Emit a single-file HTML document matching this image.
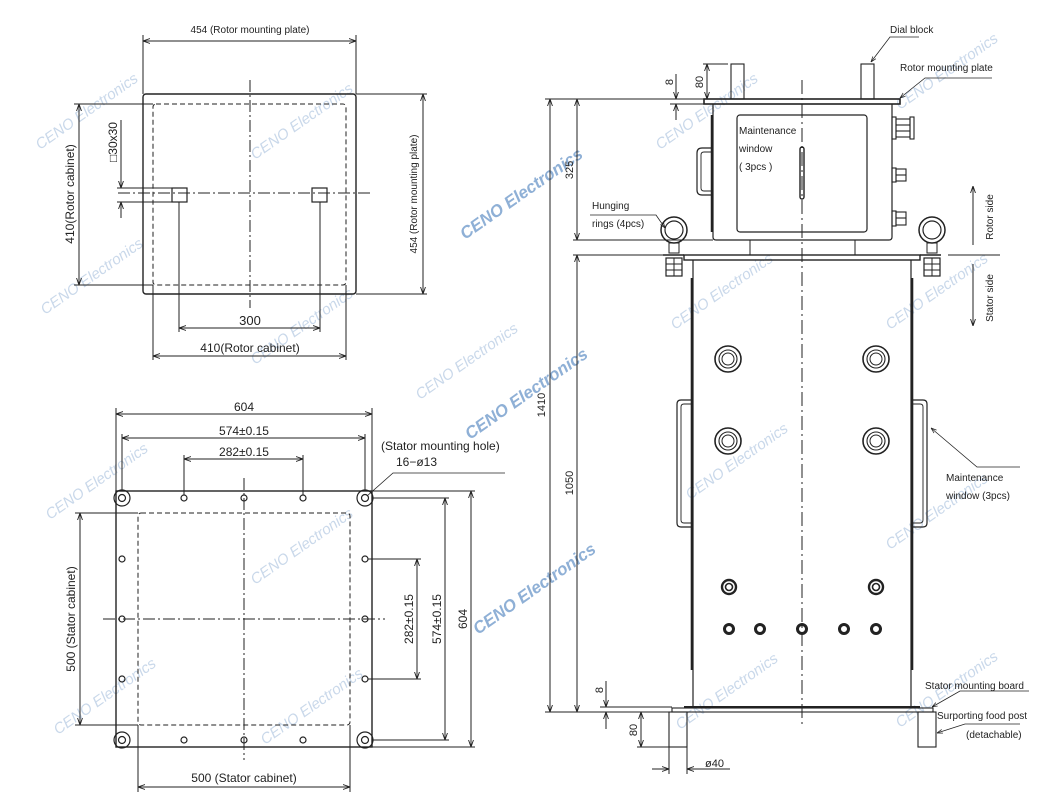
<!DOCTYPE html>
<html><head><meta charset="utf-8"><style>
html,body{margin:0;padding:0;background:#fff}
svg{display:block}
text{font-family:"Liberation Sans",sans-serif;fill:#222}
.t{font-size:11px}
.s{font-size:10px}
.wm{font-size:15px;fill:#c9d8ea;font-style:italic}
.wb{font-size:17px;fill:#8fb0d6;font-style:italic;font-weight:bold}
</style></head><body>
<svg width="1060" height="803" viewBox="0 0 1060 803" xmlns="http://www.w3.org/2000/svg">
<defs>
<marker id="a" viewBox="0 0 10 10" refX="10" refY="5" markerWidth="7" markerHeight="7" orient="auto-start-reverse"><path d="M0,1.5 L10,5 L0,8.5" fill="none" stroke="#222" stroke-width="1.3"/></marker>
</defs>
<!-- watermarks -->
<g>
<text class="wm" transform="translate(40,150) rotate(-35)">CENO Electronics</text>
<text class="wm" transform="translate(255,160) rotate(-35)">CENO Electronics</text>
<text class="wm" transform="translate(45,315) rotate(-35)">CENO Electronics</text>
<text class="wm" transform="translate(255,365) rotate(-35)">CENO Electronics</text>
<text class="wm" transform="translate(50,520) rotate(-35)">CENO Electronics</text>
<text class="wm" transform="translate(255,585) rotate(-35)">CENO Electronics</text>
<text class="wm" transform="translate(58,735) rotate(-35)">CENO Electronics</text>
<text class="wm" transform="translate(265,745) rotate(-35)">CENO Electronics</text>
<text class="wm" transform="translate(660,150) rotate(-35)">CENO Electronics</text>
<text class="wm" transform="translate(675,330) rotate(-35)">CENO Electronics</text>
<text class="wm" transform="translate(690,500) rotate(-35)">CENO Electronics</text>
<text class="wm" transform="translate(680,730) rotate(-35)">CENO Electronics</text>
<text class="wm" transform="translate(900,110) rotate(-35)">CENO Electronics</text>
<text class="wm" transform="translate(890,330) rotate(-35)">CENO Electronics</text>
<text class="wm" transform="translate(890,550) rotate(-35)">CENO Electronics</text>
<text class="wm" transform="translate(900,728) rotate(-35)">CENO Electronics</text>
<text class="wm" transform="translate(420,400) rotate(-35)">CENO Electronics</text>
<text class="wb" transform="translate(465,240) rotate(-35)">CENO Electronics</text>
<text class="wb" transform="translate(470,440) rotate(-35)">CENO Electronics</text>
<text class="wb" transform="translate(478,635) rotate(-35)">CENO Electronics</text>
</g>

<g stroke="#222" fill="none" stroke-width="1">
<!-- ===== TOP LEFT VIEW ===== -->
<rect x="143" y="94" width="213" height="200" rx="3" stroke-width="1.4"/>
<rect x="153" y="104" width="193" height="181" rx="3" stroke-dasharray="5,3"/>
<line x1="250" y1="80" x2="250" y2="308" stroke-dasharray="12,3,2,3"/>
<line x1="118" y1="193" x2="372" y2="193" stroke-dasharray="12,3,2,3"/>
<rect x="172" y="188" width="15" height="14" stroke-width="1.2"/>
<rect x="312" y="188" width="15" height="14" stroke-width="1.2"/>
<!-- 454 top -->
<line x1="143" y1="94" x2="143" y2="35"/><line x1="356" y1="94" x2="356" y2="35"/>
<line x1="143" y1="41" x2="356" y2="41" marker-start="url(#a)" marker-end="url(#a)"/>
<!-- 300 -->
<line x1="179" y1="202" x2="179" y2="332"/><line x1="320" y1="202" x2="320" y2="332"/>
<line x1="179" y1="328" x2="320" y2="328" marker-start="url(#a)" marker-end="url(#a)"/>
<!-- 410 bottom -->
<line x1="153" y1="285" x2="153" y2="360"/><line x1="346" y1="285" x2="346" y2="360"/>
<line x1="153" y1="356" x2="346" y2="356" marker-start="url(#a)" marker-end="url(#a)"/>
<!-- 410 left -->
<line x1="74" y1="104" x2="153" y2="104"/><line x1="74" y1="285" x2="153" y2="285"/>
<line x1="79" y1="104" x2="79" y2="285" marker-start="url(#a)" marker-end="url(#a)"/>
<!-- 454 right -->
<line x1="356" y1="94" x2="427" y2="94"/><line x1="356" y1="294" x2="427" y2="294"/>
<line x1="423" y1="94" x2="423" y2="294" marker-start="url(#a)" marker-end="url(#a)"/>
<!-- 30x30 -->
<line x1="117" y1="188" x2="172" y2="188"/><line x1="117" y1="202" x2="172" y2="202"/>
<line x1="121" y1="120" x2="121" y2="188" marker-end="url(#a)"/>
<line x1="121" y1="218" x2="121" y2="202" marker-end="url(#a)"/>

<!-- ===== BOTTOM LEFT VIEW ===== -->
<rect x="116" y="491" width="256" height="256" stroke-width="1.4"/>
<rect x="138" y="513" width="212" height="212" rx="3" stroke-dasharray="5,3"/>
<line x1="244" y1="478" x2="244" y2="760" stroke-dasharray="12,3,2,3"/>
<line x1="103" y1="619" x2="385" y2="619" stroke-dasharray="12,3,2,3"/>
<g stroke-width="1.2">
<circle cx="122" cy="498" r="8"/><circle cx="122" cy="498" r="3.5"/>
<circle cx="365" cy="498" r="8"/><circle cx="365" cy="498" r="3.5"/>
<circle cx="122" cy="740" r="8"/><circle cx="122" cy="740" r="3.5"/>
<circle cx="365" cy="740" r="8"/><circle cx="365" cy="740" r="3.5"/>
<circle cx="184" cy="498" r="3"/><circle cx="244" cy="498" r="3"/><circle cx="303" cy="498" r="3"/>
<circle cx="184" cy="740" r="3"/><circle cx="244" cy="740" r="3"/><circle cx="303" cy="740" r="3"/>
<circle cx="122" cy="559" r="3"/><circle cx="122" cy="619" r="3"/><circle cx="122" cy="679" r="3"/>
<circle cx="365" cy="559" r="3"/><circle cx="365" cy="619" r="3"/><circle cx="365" cy="679" r="3"/>
</g>
<!-- 604 top -->
<line x1="116" y1="491" x2="116" y2="408"/><line x1="372" y1="491" x2="372" y2="408"/>
<line x1="116" y1="414" x2="372" y2="414" marker-start="url(#a)" marker-end="url(#a)"/>
<line x1="122" y1="490" x2="122" y2="434"/><line x1="365" y1="490" x2="365" y2="434"/>
<line x1="122" y1="438" x2="365" y2="438" marker-start="url(#a)" marker-end="url(#a)"/>
<line x1="184" y1="495" x2="184" y2="455"/><line x1="303" y1="495" x2="303" y2="455"/>
<line x1="184" y1="459" x2="303" y2="459" marker-start="url(#a)" marker-end="url(#a)"/>
<!-- right dims -->
<line x1="368" y1="559" x2="421" y2="559"/><line x1="368" y1="679" x2="421" y2="679"/>
<line x1="417" y1="559" x2="417" y2="679" marker-start="url(#a)" marker-end="url(#a)"/>
<line x1="372" y1="498" x2="449" y2="498"/><line x1="372" y1="740" x2="449" y2="740"/>
<line x1="445" y1="498" x2="445" y2="740" marker-start="url(#a)" marker-end="url(#a)"/>
<line x1="372" y1="491" x2="475" y2="491"/><line x1="372" y1="747" x2="475" y2="747"/>
<line x1="471" y1="491" x2="471" y2="747" marker-start="url(#a)" marker-end="url(#a)"/>
<!-- left 500 -->
<line x1="75" y1="513" x2="138" y2="513"/><line x1="75" y1="725" x2="138" y2="725"/>
<line x1="80" y1="513" x2="80" y2="725" marker-start="url(#a)" marker-end="url(#a)"/>
<!-- bottom 500 -->
<line x1="138" y1="725" x2="138" y2="792"/><line x1="350" y1="725" x2="350" y2="792"/>
<line x1="138" y1="787" x2="350" y2="787" marker-start="url(#a)" marker-end="url(#a)"/>
<!-- leader -->
<polyline points="505,473 393,473 367,496" stroke-width="0.8"/>

<!-- ===== RIGHT VIEW ===== -->
<line x1="802" y1="80" x2="802" y2="725" stroke-dasharray="14,4,2,4"/>
<!-- dial blocks -->
<rect x="731" y="64" width="13" height="35" stroke-width="1.1"/>
<rect x="861" y="64" width="13" height="35" stroke-width="1.1"/>
<!-- rotor plate -->
<rect x="704" y="99" width="196" height="5" stroke-width="1.6"/>
<!-- rotor cabinet -->
<path d="M713,104 V237 Q713,240 716,240 H889 Q892,240 892,237 V104" stroke-width="1.2"/>
<line x1="712" y1="115" x2="712" y2="232" stroke-width="2.5"/>
<rect x="737" y="115" width="130" height="117" rx="3" stroke-width="1.2"/>
<rect x="800" y="147" width="4" height="52" rx="2" stroke-width="1.4"/>
<path d="M712,148 H702 Q697,148 697,153 V190 Q697,195 702,195 H712" stroke-width="1.2"/>
<path d="M712,152 H704 Q701,152 701,155 V188 Q701,191 704,191 H712" stroke-width="0.9"/>
<!-- glands -->
<g stroke-width="1.1">
<rect x="892" y="117" width="4" height="22"/><rect x="896" y="119" width="14" height="18"/><rect x="910" y="117" width="4" height="22"/>
<line x1="896" y1="125" x2="910" y2="125"/><line x1="896" y1="131" x2="910" y2="131"/>
<rect x="892" y="168" width="4" height="14"/><rect x="896" y="169" width="10" height="12"/><line x1="896" y1="175" x2="906" y2="175"/>
<rect x="892" y="211" width="4" height="15"/><rect x="896" y="212" width="10" height="13"/><line x1="896" y1="218" x2="906" y2="218"/>
</g>
<!-- neck -->
<line x1="750" y1="240" x2="750" y2="255"/><line x1="855" y1="240" x2="855" y2="255"/>
<!-- stator top plate -->
<rect x="684" y="255" width="236" height="5" stroke-width="1.4"/>
<line x1="663" y1="255" x2="684" y2="255" stroke-width="1.4"/><line x1="920" y1="255" x2="941" y2="255" stroke-width="1.4"/>
<!-- rings -->
<circle cx="674" cy="230" r="13" stroke-width="1.5"/><circle cx="674" cy="230" r="9" stroke-width="1.2"/>
<circle cx="932" cy="230" r="13" stroke-width="1.5"/><circle cx="932" cy="230" r="9" stroke-width="1.2"/>
<rect x="669" y="243" width="10" height="10"/><rect x="927" y="243" width="10" height="10"/>
<rect x="666" y="258" width="16" height="18" stroke-width="1.2"/><line x1="666" y1="264" x2="682" y2="264"/><line x1="666" y1="270" x2="682" y2="270"/><line x1="674" y1="258" x2="674" y2="276"/>
<rect x="924" y="258" width="16" height="18" stroke-width="1.2"/><line x1="924" y1="264" x2="940" y2="264"/><line x1="924" y1="270" x2="940" y2="270"/><line x1="932" y1="258" x2="932" y2="276"/>
<!-- stator body -->
<line x1="693" y1="260" x2="693" y2="707" stroke-width="1.2"/>
<line x1="911" y1="260" x2="911" y2="707" stroke-width="1.2"/>
<line x1="692" y1="278" x2="692" y2="670" stroke-width="2.6"/>
<line x1="912" y1="278" x2="912" y2="670" stroke-width="2.6"/>
<path d="M692,400 H681 Q677,400 677,404 V523 Q677,527 681,527 H692" stroke-width="1.2"/>
<path d="M692,404 H684 Q681,404 681,407 V520 Q681,523 684,523 H692" stroke-width="0.9"/>
<path d="M912,400 H923 Q927,400 927,404 V523 Q927,527 923,527 H912" stroke-width="1.2"/>
<path d="M912,404 H920 Q923,404 923,407 V520 Q923,523 920,523 H912" stroke-width="0.9"/>
<g stroke-width="1.6">
<circle cx="728" cy="359" r="13"/><circle cx="728" cy="359" r="9" stroke-width="1.1"/><circle cx="728" cy="359" r="6" stroke-width="1"/>
<circle cx="876" cy="359" r="13"/><circle cx="876" cy="359" r="9" stroke-width="1.1"/><circle cx="876" cy="359" r="6" stroke-width="1"/>
<circle cx="728" cy="441" r="13"/><circle cx="728" cy="441" r="9" stroke-width="1.1"/><circle cx="728" cy="441" r="6" stroke-width="1"/>
<circle cx="876" cy="441" r="13"/><circle cx="876" cy="441" r="9" stroke-width="1.1"/><circle cx="876" cy="441" r="6" stroke-width="1"/>
<circle cx="729" cy="587" r="7" stroke-width="2.4"/><circle cx="729" cy="587" r="3.5"/>
<circle cx="876" cy="587" r="7" stroke-width="2.4"/><circle cx="876" cy="587" r="3.5"/>
</g>
<g stroke-width="3">
<circle cx="729" cy="629" r="4.5"/><circle cx="760" cy="629" r="4.5"/><circle cx="802" cy="629" r="4.5"/><circle cx="844" cy="629" r="4.5"/><circle cx="876" cy="629" r="4.5"/>
</g>
<!-- base -->
<line x1="684" y1="707" x2="920" y2="707" stroke-width="2"/>
<rect x="672" y="708" width="261" height="4" stroke-width="1.1"/>
<rect x="669" y="712" width="18" height="35" stroke-width="1.1"/>
<rect x="918" y="712" width="18" height="35" stroke-width="1.1"/>
<!-- left dims -->
<line x1="545" y1="99" x2="704" y2="99"/>
<line x1="573" y1="240" x2="713" y2="240"/>
<line x1="573" y1="255" x2="663" y2="255"/>
<line x1="545" y1="712" x2="670" y2="712"/>
<line x1="550" y1="99" x2="550" y2="712" marker-start="url(#a)" marker-end="url(#a)"/>
<line x1="577" y1="99" x2="577" y2="240" marker-start="url(#a)" marker-end="url(#a)"/>
<line x1="577" y1="255" x2="577" y2="712" marker-start="url(#a)" marker-end="url(#a)"/>
<!-- 8 / 80 top -->
<line x1="676" y1="74" x2="676" y2="99" marker-end="url(#a)"/>
<line x1="676" y1="120" x2="676" y2="104" marker-end="url(#a)"/>
<line x1="670" y1="104" x2="704" y2="104"/>
<line x1="703" y1="64" x2="728" y2="64"/>
<line x1="707" y1="64" x2="707" y2="99" marker-start="url(#a)" marker-end="url(#a)"/>
<!-- 8 / 80 bottom -->
<line x1="606" y1="681" x2="606" y2="707" marker-end="url(#a)"/>
<line x1="606" y1="729" x2="606" y2="712" marker-end="url(#a)"/>
<line x1="600" y1="707" x2="672" y2="707"/>
<line x1="637" y1="747" x2="669" y2="747"/>
<line x1="641" y1="712" x2="641" y2="747" marker-start="url(#a)" marker-end="url(#a)"/>
<!-- ø40 -->
<line x1="669" y1="747" x2="669" y2="774"/><line x1="687" y1="747" x2="687" y2="774"/>
<line x1="652" y1="769" x2="669" y2="769" marker-end="url(#a)"/>
<line x1="730" y1="769" x2="687" y2="769" marker-end="url(#a)"/>
<!-- leaders -->
<polyline points="919,37 890,37 871,62" stroke-width="0.8" marker-end="url(#a)"/>
<polyline points="992,78 925,78 900,98" stroke-width="0.8" marker-end="url(#a)"/>
<polyline points="590,215 656,215 665,228" stroke-width="0.8" marker-end="url(#a)"/>
<polyline points="1020,467 977,467 931,428" stroke-width="0.8" marker-end="url(#a)"/>
<polyline points="1029,691 960,691 932,707" stroke-width="0.8" marker-end="url(#a)"/>
<polyline points="1020,724 965,724 937,733" stroke-width="0.8" marker-end="url(#a)"/>
<!-- rotor/stator side -->
<line x1="948" y1="255" x2="1000" y2="255"/>
<line x1="973" y1="245" x2="973" y2="186" marker-end="url(#a)"/>
<line x1="973" y1="264" x2="973" y2="326" marker-end="url(#a)"/>
</g>

<!-- TEXT -->
<g class="t">
<text x="250" y="33" text-anchor="middle" class="s">454 (Rotor mounting plate)</text>
<text x="250" y="325" text-anchor="middle" font-size="13">300</text>
<text x="250" y="352" text-anchor="middle" font-size="12">410(Rotor cabinet)</text>
<text transform="translate(74,194) rotate(-90)" text-anchor="middle" font-size="12">410(Rotor cabinet)</text>
<text transform="translate(417,194) rotate(-90)" text-anchor="middle" class="s">454 (Rotor mounting plate)</text>
<text transform="translate(117,142) rotate(-90)" text-anchor="middle" font-size="12">□30x30</text>

<text x="244" y="411" text-anchor="middle" font-size="12">604</text>
<text x="244" y="435" text-anchor="middle" font-size="12">574±0.15</text>
<text x="244" y="456" text-anchor="middle" font-size="12">282±0.15</text>
<text x="381" y="450" font-size="12">(Stator mounting hole)</text>
<text x="396" y="466" font-size="12">16−ø13</text>
<text transform="translate(413,619) rotate(-90)" text-anchor="middle" font-size="12">282±0.15</text>
<text transform="translate(441,619) rotate(-90)" text-anchor="middle" font-size="12">574±0.15</text>
<text transform="translate(467,619) rotate(-90)" text-anchor="middle" font-size="12">604</text>
<text transform="translate(75,619) rotate(-90)" text-anchor="middle" font-size="12">500 (Stator cabinet)</text>
<text x="244" y="782" text-anchor="middle" font-size="12">500 (Stator cabinet)</text>

<text transform="translate(545,405) rotate(-90)" text-anchor="middle">1410</text>
<text transform="translate(573,170) rotate(-90)" text-anchor="middle">325</text>
<text transform="translate(573,483) rotate(-90)" text-anchor="middle">1050</text>
<text transform="translate(673,82) rotate(-90)" text-anchor="middle">8</text>
<text transform="translate(703,82) rotate(-90)" text-anchor="middle">80</text>
<text transform="translate(603,690) rotate(-90)" text-anchor="middle">8</text>
<text transform="translate(637,730) rotate(-90)" text-anchor="middle">80</text>
<text x="705" y="767">ø40</text>
<text x="890" y="33" class="s">Dial block</text>
<text x="900" y="71" class="s">Rotor mounting plate</text>
<text x="592" y="209" class="s">Hunging</text>
<text x="592" y="227" class="s">rings (4pcs)</text>
<text x="739" y="134" class="s">Maintenance</text>
<text x="739" y="152" class="s">window</text>
<text x="739" y="170" class="s">( 3pcs )</text>
<text x="946" y="481" class="s">Maintenance</text>
<text x="946" y="499" class="s">window (3pcs)</text>
<text transform="translate(993,217) rotate(-90)" text-anchor="middle" class="s">Rotor side</text>
<text transform="translate(993,298) rotate(-90)" text-anchor="middle" class="s">Stator side</text>
<text x="925" y="689" class="s">Stator mounting board</text>
<text x="937" y="719" class="s">Surporting food post</text>
<text x="966" y="738" class="s">(detachable)</text>
</g>
</svg>
</body></html>
